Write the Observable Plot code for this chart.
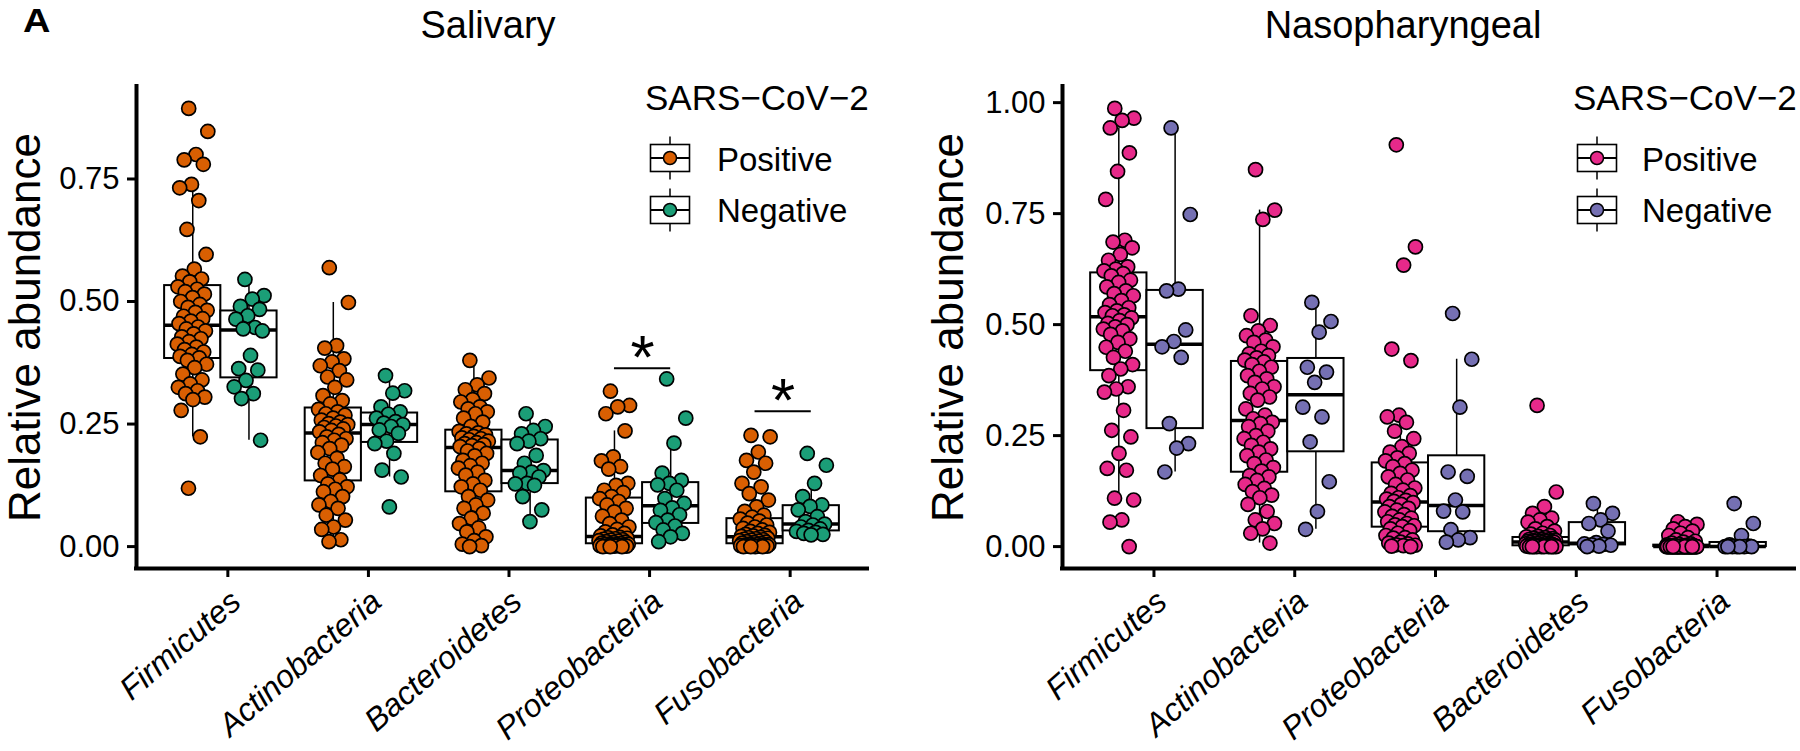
<!DOCTYPE html>
<html><head><meta charset="utf-8">
<script src="https://cdn.jsdelivr.net/npm/d3@7"></script>
<script src="https://cdn.jsdelivr.net/npm/@observablehq/plot@0.6"></script>
<style>
body{margin:0;background:#fff;font-family:"Liberation Sans",Arial,Helvetica,sans-serif;}
#wrap{position:relative;width:1800px;height:751px;overflow:hidden;background:#fff;}
.panel{position:absolute;top:0;width:900px;height:751px;}
.t{position:absolute;white-space:nowrap;line-height:1;color:#000;z-index:5;}
.key{position:absolute;z-index:5;}
</style></head><body><div id="wrap"><div class="panel" id="left" style="left:0"></div><div class="panel" id="right" style="left:900px"></div></div>
<script>
// ---------- data ----------
const groups = ["Positive", "Negative"];
const salivaryPhyla = ["Firmicutes", "Actinobacteria", "Bacteroidetes", "Proteobacteria", "Fusobacteria"];
const nasoPhyla = ["Firmicutes", "Actinobacteria", "Proteobacteria", "Bacteroidetes", "Fusobacteria"];
const salivaryColors = ["#D95F02", "#1B9E77"];
const nasoColors = ["#E7298A", "#7570B3"];
const salivaryTicks = [0, 0.25, 0.5, 0.75];
const nasoTicks = [0, 0.25, 0.5, 0.75, 1.0];

const salFirmicutesPos = [0.894,0.847,0.800,0.789,0.780,0.739,0.732,0.706,0.647,0.596,0.566,0.552,0.546,0.540,0.530,0.525,0.520,0.515,0.508,0.500,0.494,0.488,0.482,0.478,0.470,0.465,0.460,0.455,0.448,0.444,0.440,0.434,0.428,0.424,0.418,0.413,0.407,0.402,0.397,0.392,0.388,0.385,0.380,0.372,0.365,0.352,0.340,0.332,0.325,0.318,0.312,0.305,0.300,0.278,0.224,0.119];
const salFirmicutesNeg = [0.545,0.512,0.505,0.490,0.484,0.471,0.464,0.447,0.444,0.440,0.390,0.363,0.360,0.339,0.326,0.312,0.302,0.217];
const salActinoPos = [0.569,0.498,0.410,0.405,0.383,0.377,0.369,0.359,0.346,0.340,0.325,0.308,0.298,0.291,0.280,0.275,0.271,0.268,0.262,0.258,0.254,0.251,0.249,0.246,0.243,0.240,0.237,0.234,0.229,0.224,0.220,0.217,0.212,0.207,0.200,0.192,0.180,0.170,0.163,0.158,0.145,0.136,0.128,0.122,0.117,0.112,0.102,0.092,0.085,0.078,0.064,0.054,0.040,0.035,0.014,0.010];
const salActinoNeg = [0.349,0.318,0.313,0.285,0.275,0.270,0.262,0.255,0.252,0.249,0.245,0.238,0.231,0.215,0.210,0.190,0.156,0.142,0.081];
const salBacteroPos = [0.380,0.344,0.330,0.320,0.312,0.300,0.295,0.285,0.281,0.275,0.271,0.262,0.254,0.245,0.235,0.232,0.230,0.228,0.225,0.222,0.220,0.218,0.215,0.212,0.210,0.208,0.206,0.204,0.200,0.195,0.190,0.185,0.176,0.170,0.165,0.160,0.152,0.146,0.135,0.128,0.122,0.115,0.102,0.095,0.085,0.078,0.068,0.058,0.047,0.038,0.030,0.020,0.012,0.005,0.002,0.000];
const salBacteroNeg = [0.271,0.245,0.237,0.230,0.220,0.215,0.210,0.186,0.170,0.155,0.152,0.150,0.142,0.129,0.128,0.125,0.102,0.075,0.051];
const salProteoPos = [0.317,0.288,0.285,0.271,0.236,0.183,0.175,0.163,0.158,0.129,0.125,0.115,0.110,0.102,0.098,0.092,0.085,0.078,0.071,0.062,0.054,0.047,0.040,0.035,0.030,0.027,0.024,0.022,0.019,0.018,0.017,0.016,0.015,0.014,0.013,0.012,0.011,0.010,0.009,0.008,0.007,0.006,0.005,0.005,0.004,0.004,0.003,0.003,0.002,0.002,0.001,0.001,0.001,0,0,0];
const salProteoNeg = [0.342,0.262,0.211,0.150,0.135,0.129,0.126,0.115,0.098,0.088,0.079,0.074,0.065,0.054,0.049,0.042,0.034,0.027,0.020,0.010];
const salFusoPos = [0.227,0.224,0.193,0.176,0.170,0.152,0.129,0.122,0.108,0.095,0.081,0.072,0.064,0.060,0.056,0.052,0.048,0.044,0.040,0.037,0.034,0.031,0.029,0.027,0.025,0.023,0.022,0.021,0.019,0.018,0.017,0.016,0.015,0.014,0.013,0.012,0.011,0.010,0.009,0.008,0.007,0.006,0.005,0.004,0.004,0.003,0.003,0.002,0.002,0.001,0.001,0.001,0,0,0,0];
const salFusoNeg = [0.190,0.166,0.129,0.102,0.085,0.082,0.075,0.061,0.051,0.046,0.044,0.040,0.036,0.033,0.031,0.029,0.027,0.025,0.024];

const nasoFirmicutesPos = [0.987,0.965,0.960,0.943,0.887,0.845,0.782,0.690,0.686,0.673,0.658,0.645,0.630,0.625,0.621,0.615,0.610,0.600,0.595,0.585,0.576,0.570,0.565,0.554,0.545,0.538,0.531,0.527,0.522,0.520,0.515,0.509,0.503,0.500,0.495,0.490,0.486,0.478,0.468,0.460,0.449,0.440,0.426,0.410,0.400,0.385,0.360,0.355,0.348,0.307,0.262,0.247,0.210,0.176,0.172,0.109,0.105,0.060,0.055,0.000];
const nasoFirmicutesNeg = [0.943,0.748,0.580,0.576,0.488,0.462,0.450,0.426,0.277,0.232,0.222,0.168];
const nasoActinoPos = [0.849,0.758,0.737,0.520,0.498,0.486,0.475,0.465,0.460,0.450,0.440,0.434,0.430,0.425,0.420,0.416,0.410,0.404,0.395,0.385,0.378,0.370,0.360,0.355,0.345,0.337,0.330,0.310,0.296,0.288,0.280,0.277,0.270,0.260,0.250,0.243,0.235,0.228,0.220,0.213,0.205,0.195,0.187,0.178,0.170,0.160,0.157,0.149,0.140,0.131,0.124,0.116,0.110,0.095,0.079,0.060,0.052,0.040,0.030,0.008];
const nasoActinoNeg = [0.550,0.507,0.483,0.404,0.393,0.370,0.314,0.292,0.236,0.146,0.079,0.039];
const nasoProteoPos = [0.905,0.675,0.634,0.445,0.419,0.296,0.292,0.280,0.260,0.243,0.225,0.213,0.210,0.200,0.193,0.187,0.180,0.172,0.165,0.157,0.150,0.140,0.132,0.127,0.120,0.115,0.110,0.107,0.104,0.102,0.099,0.095,0.090,0.086,0.082,0.078,0.072,0.068,0.064,0.060,0.056,0.052,0.049,0.047,0.045,0.040,0.036,0.030,0.025,0.020,0.019,0.015,0.010,0.008,0.006,0.004,0.003,0.002,0.001,0];
const nasoProteoNeg = [0.525,0.422,0.314,0.168,0.158,0.105,0.080,0.078,0.038,0.020,0.015,0.010];
const nasoBacteroPos = [0.318,0.123,0.090,0.075,0.064,0.060,0.055,0.045,0.040,0.035,0.030,0.028,0.025,0.023,0.022,0.020,0.019,0.018,0.017,0.016,0.015,0.015,0.014,0.013,0.013,0.012,0.012,0.011,0.011,0.011,0.010,0.009,0.009,0.008,0.007,0.006,0.006,0.005,0.005,0.004,0.004,0.003,0.003,0.002,0.002,0.001,0.001,0.001,0.001,0.001,0,0,0,0,0,0,0,0,0,0];
const nasoBacteroNeg = [0.097,0.075,0.060,0.052,0.035,0.009,0.006,0.005,0.004,0.003,0.001,0];
const nasoFusoPos = [0.056,0.050,0.045,0.040,0.035,0.030,0.025,0.020,0.015,0.012,0.010,0.008,0.006,0.005,0.004,0.003,0.002,0.002,0.001,0.001,0,0,0,0,0,0,0,0,0,0,0,0,0,0,0,0,0,0,0,0,0,0,0,0,0,0,0,0,0,0,0,0,0,0,0,0,0,0,0,0];
const nasoFusoNeg = [0.097,0.052,0.025,0.004,0.001,0,0,0,0,0,0,0];

const salivarySig = ["Proteobacteria", "Fusobacteria"];
const salivarySigHeights = [0.364, 0.276];
const salivarySigLabels = ["*", "*"];

// ---------- build ----------
const salivarySeries = [[salFirmicutesPos, salFirmicutesNeg],[salActinoPos, salActinoNeg],[salBacteroPos, salBacteroNeg],[salProteoPos, salProteoNeg],[salFusoPos, salFusoNeg]];
const nasoSeries = [[nasoFirmicutesPos, nasoFirmicutesNeg],[nasoActinoPos, nasoActinoNeg],[nasoProteoPos, nasoProteoNeg],[nasoBacteroPos, nasoBacteroNeg],[nasoFusoPos, nasoFusoNeg]];

const DODGE = 0.2, HALF = 0.2, JIT = 0.22;
const jitter = i => (((i * 0.6180339887 + 0.37) % 1) - 0.5) * JIT;

function boxStats(vals) {
  const s = vals.slice().sort(d3.ascending);
  const q1 = d3.quantile(s, 0.25), med = d3.quantile(s, 0.5), q3 = d3.quantile(s, 0.75);
  const iqr = q3 - q1;
  const lo = d3.min(s.filter(v => v >= q1 - 1.5 * iqr));
  const hi = d3.max(s.filter(v => v <= q3 + 1.5 * iqr));
  return {q1, med, q3, lo, hi};
}

function makePanel({phyla, series, colors, ticks, marginLeft, marginRight, labelDx, sig}) {
  const pts = [], boxes = [];
  series.forEach((pair, ci) => {
    pair.forEach((vals, gi) => {
      const c = ci + 1 + (gi === 0 ? -DODGE : DODGE);
      boxes.push({x: c, xl: c - HALF, xr: c + HALF, group: groups[gi], ...boxStats(vals)});
      vals.forEach((v, i) => pts.push({phylum: phyla[ci], group: groups[gi], value: v, x: c + jitter(i)}));
    });
  });
  const ymax = d3.max(pts, d => d.value);
  const yDomain = [-0.05 * ymax, 1.05 * ymax];
  const marks = [
    Plot.ruleX(boxes, {x: "x", y1: "lo", y2: "q1", strokeWidth: 1.5}),
    Plot.ruleX(boxes, {x: "x", y1: "q3", y2: "hi", strokeWidth: 1.5}),
    Plot.rect(boxes, {x1: "xl", x2: "xr", y1: "q1", y2: "q3", fill: "white", stroke: "black", strokeWidth: 2}),
    Plot.ruleY(boxes, {y: "med", x1: "xl", x2: "xr", strokeWidth: 3.5}),
    Plot.dot(pts, {x: "x", y: "value", fill: "group", stroke: "black", strokeWidth: 1.7, r: 7}),
    Plot.axisY({ticks, tickFormat: d3.format(".2f"), tickSize: 9, tickPadding: 8, fontSize: 31, strokeWidth: 3, label: null}),
    Plot.axisX({ticks: [1, 2, 3, 4, 5], tickFormat: i => phyla[i - 1], tickSize: 9, tickPadding: 10, tickRotate: -41, textAnchor: "end", lineAnchor: "top", dx: 7, fontSize: 32, fontStyle: "italic", strokeWidth: 3, label: null}),
    Plot.ruleX([0.4], {y1: yDomain[0], y2: yDomain[1], strokeWidth: 4, strokeLinecap: "square"}),
    Plot.ruleY([yDomain[0]], {x1: 0.4, x2: 5.6, strokeWidth: 4, strokeLinecap: "square"}),
    Plot.text(["Relative abundance"], {frameAnchor: "left", dx: labelDx, rotate: -90, fontSize: 44, textAnchor: "middle", lineAnchor: "bottom"})
  ];
  if (sig) {
    const s = sig.names.map((n, i) => ({ci: phyla.indexOf(n) + 1, h: sig.heights[i], label: sig.labels[i]}));
    marks.push(Plot.ruleY(s, {y: "h", x1: d => d.ci - DODGE, x2: d => d.ci + DODGE, strokeWidth: 2}));
    marks.push(Plot.text(s, {x: "ci", y: "h", text: "label", fontSize: 62, lineAnchor: "middle", dy: -10}));
  }
  return Plot.plot({
    width: 900, height: 751, marginLeft, marginRight, marginTop: 86, marginBottom: 183,
    style: {fontFamily: '"Liberation Sans", Arial, sans-serif', background: "transparent", overflow: "visible", color: "black"},
    x: {domain: [0.4, 5.6], axis: null},
    y: {domain: yDomain, axis: null},
    color: {domain: groups, range: colors},
    marks
  });
}

document.getElementById("left").append(makePanel({phyla: salivaryPhyla, series: salivarySeries, colors: salivaryColors, ticks: salivaryTicks, marginLeft: 136, marginRight: 33, labelDx: -97,
  sig: {names: salivarySig, heights: salivarySigHeights, labels: salivarySigLabels}}));
document.getElementById("right").append(makePanel({phyla: nasoPhyla, series: nasoSeries, colors: nasoColors, ticks: nasoTicks, marginLeft: 162, marginRight: 6, labelDx: -100}));

// ---------- text overlays ----------
const wrap = document.getElementById("wrap");
function txt(s, left, baseline, size, extra = {}) {
  const d = document.createElement("div");
  d.className = "t";
  d.textContent = s;
  d.style.fontSize = size + "px";
  d.style.left = left + "px";
  d.style.top = (baseline - 0.8465 * size) + "px";
  Object.assign(d.style, extra);
  wrap.append(d);
  return d;
}
function key(cx, cy, color) {
  const ns = "http://www.w3.org/2000/svg";
  const svg = document.createElementNS(ns, "svg");
  svg.setAttribute("width", 46); svg.setAttribute("height", 50);
  svg.setAttribute("class", "key");
  svg.style.left = (cx - 23) + "px"; svg.style.top = (cy - 25) + "px";
  svg.innerHTML = `<line x1="23" x2="23" y1="3.5" y2="46.5" stroke="black" stroke-width="1.5"/>
    <rect x="3.5" y="11.5" width="39" height="27" fill="white" stroke="black" stroke-width="1.6"/>
    <line x1="3.5" x2="42.5" y1="25" y2="25" stroke="black" stroke-width="2"/>
    <circle cx="23" cy="25" r="6.5" fill="${color}" stroke="black" stroke-width="1.5"/>`;
  wrap.append(svg);
}
txt("A", 23, 32, 33, {fontWeight: "bold", transform: "scaleX(1.15)", transformOrigin: "left top"});
txt("Salivary", 488, 38, 38, {transform: "translateX(-50%)"});
txt("Nasopharyngeal", 1403, 38, 38, {transform: "translateX(-50%)"});
[[645, 670, 717, salivaryColors], [1573, 1597, 1642, nasoColors]].forEach(([tl, kx, lx, cols]) => {
  txt("SARS\u2212CoV\u22122", tl, 110, 35);
  key(kx, 158, cols[0]);
  key(kx, 210, cols[1]);
  txt(groups[0], lx, 170.5, 33);
  txt(groups[1], lx, 222, 33);
});
</script></body></html>
